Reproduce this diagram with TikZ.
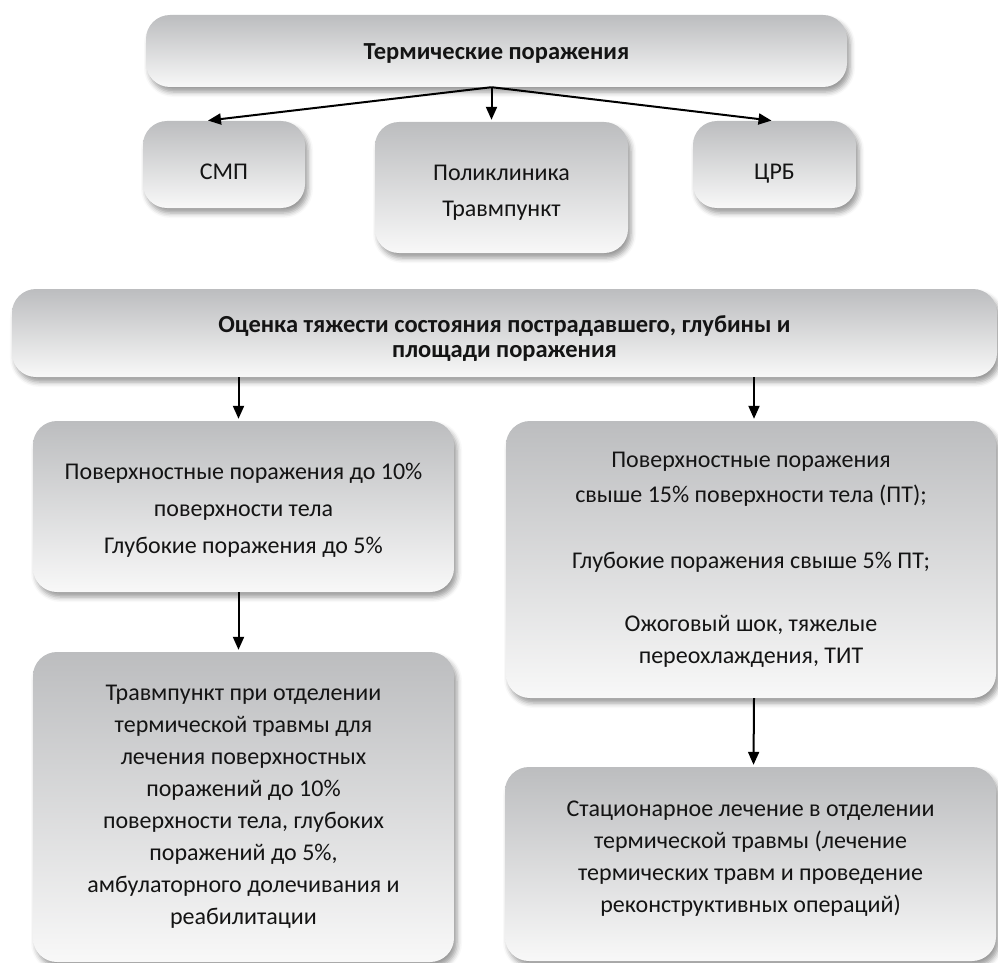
\documentclass[tikz,border=0pt]{standalone}
\usepackage{fontspec}
\setmainfont{Carlito}
\usetikzlibrary{arrows.meta,shadows.blur}
\definecolor{boxtop}{RGB}{188,189,191}
\definecolor{boxbot}{RGB}{248,248,248}
\definecolor{textcol}{RGB}{20,20,20}

\begin{document}
\begin{tikzpicture}[x=1pt, y=-1pt,
    box/.style={rounded corners=24pt, top color=boxtop, bottom color=boxbot,
        blur shadow={shadow xshift=3pt, shadow yshift=-5pt, shadow blur radius=5pt, shadow opacity=40},
        align=center, inner sep=0pt, text=textcol,
        font=\fontsize{24}{32}\selectfont},
    head/.style={box, font=\fontsize{24.5}{25}\selectfont\bfseries},
    arr/.style={-{Triangle[length=13pt, width=11pt]}, line width=2pt, shorten >=2pt}]

    \useasboundingbox (0,0) rectangle (998,963);

    % верхний уровень
    \node[head, minimum width=701pt, minimum height=72pt, text height=18pt, text depth=0pt] (term) at (496.5,51) {Термические поражения};
    \node[box, minimum width=162pt, minimum height=87pt, text height=29pt, text depth=0pt] (smp) at (224,164.5) {СМП};
    \node[box, minimum width=253pt, minimum height=131pt] (poli) at (501.5,187.5) {\rule{0pt}{25pt}Поликлиника\\[4pt]Травмпункт};
    \node[box, minimum width=163pt, minimum height=87pt, text height=29pt, text depth=0pt] (crb) at (774.5,164.5) {ЦРБ};

    \draw[arr] ([xshift=-5pt]term.south) -- ([xshift=-18pt]smp.north);
    \draw[arr] ([xshift=-5pt]term.south) -- ([xshift=-10pt]poli.north);
    \draw[arr] ([xshift=-5pt]term.south) -- ([xshift=-1pt]crb.north);

    % оценка
    \node[head, minimum width=985pt, minimum height=88pt] (ocenka) at (504.5,333)
        {\rule{0pt}{28pt}Оценка тяжести состояния пострадавшего, глубины и\\площади поражения};

    % две ветви
    \node[box, minimum width=421pt, minimum height=171pt] (light) at (243.5,506.5)
        {\rule{0pt}{24pt}Поверхностные поражения до 10\%\\[5pt]поверхности тела\\[5pt]Глубокие поражения до 5\%};
    \node[box, minimum width=490pt, minimum height=277pt] (heavy) at (751,559.5)
        {Поверхностные поражения\\[3pt]свыше 15\% поверхности тела (ПТ);\\[34pt]Глубокие поражения свыше 5\% ПТ;\\[31pt]Ожоговый шок, тяжелые\\переохлаждения, ТИТ};

    \draw[arr] ([xshift=-5pt]light.north |- ocenka.south) -- ([xshift=-5pt]light.north);
    \draw[arr] ([xshift=3pt]heavy.north |- ocenka.south) -- ([xshift=3pt]heavy.north);

    % лечение
    \node[box, minimum width=421pt, minimum height=310pt] (trauma) at (243.5,807)
        {Травмпункт при отделении\\термической травмы для\\лечения поверхностных\\поражений до 10\%\\поверхности тела, глубоких\\поражений до 5\%,\\амбулаторного долечивания и\\реабилитации};
    \node[box, minimum width=491pt, minimum height=194pt] (stac) at (750.5,864)
        {Стационарное лечение в отделении\\термической травмы (лечение\\термических травм и проведение\\реконструктивных операций)\rule[-14pt]{0pt}{14pt}};

    \draw[arr] ([xshift=-5pt]light.south) -- ([xshift=-5pt]trauma.north);
    \draw[arr] ([xshift=3pt]heavy.south) -- ([xshift=3pt]stac.north);
\end{tikzpicture}
\end{document}
